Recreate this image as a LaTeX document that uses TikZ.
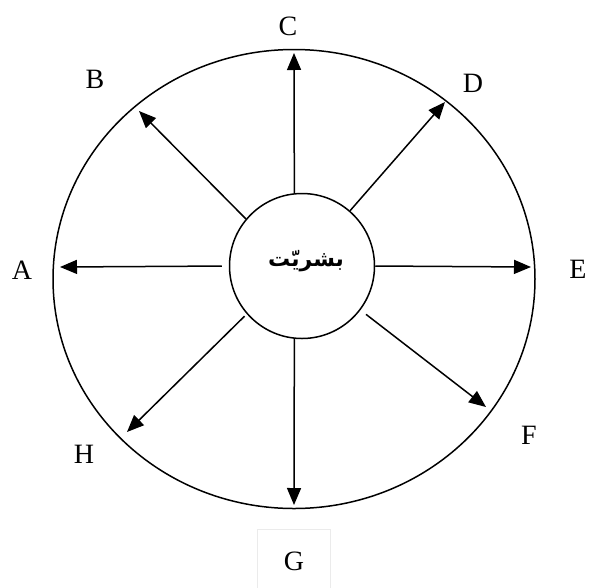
\documentclass[tikz,border=0pt]{standalone}
\usepackage{fontspec}
\setmainfont{Liberation Serif}
\newfontfamily\arabicfont[Script=Arabic]{DejaVu Sans}
\TeXXeTstate=1
\usetikzlibrary{arrows.meta}

\begin{document}
\begin{tikzpicture}[x=1pt, y=-1pt, >={Triangle[length=17pt,width=14pt]}, line width=1.5pt,
  lbl/.style={font=\fontsize{28}{30}\selectfont, inner sep=0pt}]
  \useasboundingbox (0,0) rectangle (589,587);
  % Outer ellipse
  \draw (294,279) ellipse [x radius=241pt, y radius=229.5pt];
  % Centre circle
  \node[draw, circle, minimum size=145pt, inner sep=0pt,
    font=\arabicfont\bfseries\fontsize{22}{24}\selectfont] (hum) at (302,266)
    {\hspace*{8pt}\raisebox{3pt}{\beginR بشريّت\endR}\vphantom{\rule[-12pt]{0pt}{12pt}}};
  % Arrow tips
  \coordinate (tA) at (60,267);
  \coordinate (tB) at (139,111);
  \coordinate (tC) at (294,53);
  \coordinate (tD) at (445,102);
  \coordinate (tE) at (531,267);
  \coordinate (tF) at (486,407);
  \coordinate (tG) at (294,505);
  \coordinate (tH) at (127,432);
  % Arrows (anchor angle / tip / gap)
  \foreach \a/\t/\g in {180/tA/7, 140/tB/0, 96/tC/0, 49/tD/0,
                        0/tE/0, -37/tF/7, 264/tG/0, 221/tH/3} {
    \draw[->, shorten <=\g pt] (hum.\a) -- (\t);
  }
  % Labels
  \node[lbl] (A) at (22,270) {A};
  \node[lbl] (B) at (95,79) {B};
  \node[lbl] (C) at (288,26) {C};
  \node[lbl] (D) at (473,83) {D};
  \node[lbl] (E) at (578,269) {E};
  \node[lbl] (F) at (529,435) {F};
  \node[lbl] (H) at (84,454) {H};
  \node[lbl, draw=black!8, line width=0.8pt, minimum width=73pt, minimum height=64pt] (G) at (294,561) {G};
\end{tikzpicture}
\end{document}
